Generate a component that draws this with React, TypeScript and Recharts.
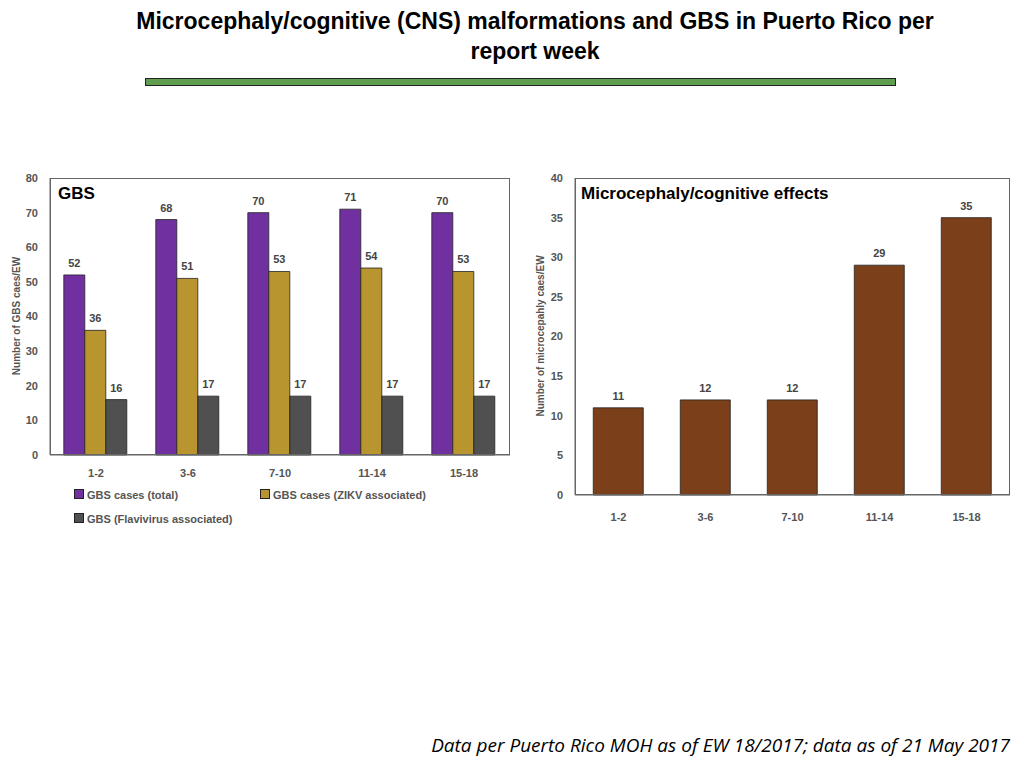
import React from "react";
import { BarChart, Bar, XAxis, YAxis, LabelList } from "recharts";

const weeks = ["1-2", "3-6", "7-10", "11-14", "15-18"];
const gbsTotal = [52, 68, 70, 71, 70];
const gbsZikv = [36, 51, 53, 54, 53];
const gbsFlavi = [16, 17, 17, 17, 17];
const microcephaly = [11, 12, 12, 29, 35];

const gbsData = weeks.map((w, i) => ({ week: w, total: gbsTotal[i], zikv: gbsZikv[i], flavi: gbsFlavi[i] }));
const microData = weeks.map((w, i) => ({ week: w, cases: microcephaly[i] }));

const font = "Liberation Sans, Arial, sans-serif";
const tick = { fontSize: 11, fontWeight: 700, fill: "#555", fontFamily: font };
const lbl = { fontSize: 11, fontWeight: 700, fill: "#444", fontFamily: font };

function Swatch({ color }: { color: string }) {
  return <span style={{ display: "inline-block", width: 8, height: 8, background: color, border: "1px solid #222", marginRight: 3 }} />;
}

function AxisTitle({ text, cx, cy }: { text: string; cx: number; cy: number }) {
  return (
    <div style={{ position: "absolute", left: cx - 150, top: cy - 7, width: 300, textAlign: "center", fontSize: 10, fontWeight: 700, color: "#555", transform: "rotate(-90deg)", lineHeight: "14px" }}>
      {text}
    </div>
  );
}

export default function App() {
  return (
    <div style={{ position: "absolute", left: 0, top: 0, width: 1024, height: 768, background: "#fff", fontFamily: font }}>
      <div style={{ position: "absolute", top: 6, left: 0, width: 1070, textAlign: "center", fontSize: 23, fontWeight: 700, lineHeight: "30px" }}>
        Microcephaly/cognitive (CNS) malformations and GBS in Puerto Rico per<br />report week
      </div>
      <div style={{ position: "absolute", left: 145, top: 78, width: 749, height: 6, background: "#5e9e4e", border: "1px solid #222" }} />

      {/* GBS chart */}
      <div style={{ position: "absolute", left: 0, top: 160 }}>
        <BarChart width={520} height={330} data={gbsData} margin={{ top: 18, right: 10, bottom: 5, left: 0 }} barCategoryGap="15%" barGap={0}>
          <XAxis dataKey="week" height={30} tick={tick} tickLine={false} axisLine={{ stroke: "#666" }} tickMargin={8} />
          <YAxis width={50} domain={[0, 80]} ticks={[0, 10, 20, 30, 40, 50, 60, 70, 80]} tick={tick} tickLine={false} axisLine={{ stroke: "#666" }} tickMargin={6} />
          <Bar dataKey="total" fill="#7030A0" stroke="#222" strokeWidth={0.8} isAnimationActive={false}>
            <LabelList dataKey="total" position="top" offset={8} style={lbl} />
          </Bar>
          <Bar dataKey="zikv" fill="#B8952F" stroke="#222" strokeWidth={0.8} isAnimationActive={false}>
            <LabelList dataKey="zikv" position="top" offset={8} style={lbl} />
          </Bar>
          <Bar dataKey="flavi" fill="#505050" stroke="#222" strokeWidth={0.8} isAnimationActive={false}>
            <LabelList dataKey="flavi" position="top" offset={8} style={lbl} />
          </Bar>
        </BarChart>
      </div>
      <AxisTitle text="Number of GBS caes/EW" cx={17} cy={316} />
      <div style={{ position: "absolute", left: 50, top: 178, width: 460, height: 277, border: "1px solid #666", boxSizing: "border-box", pointerEvents: "none" }} />
      <div style={{ position: "absolute", left: 58, top: 184, fontSize: 17, fontWeight: 700 }}>GBS</div>
      <div style={{ position: "absolute", left: 74, top: 489, fontSize: 11, fontWeight: 700, color: "#555" }}><Swatch color="#7030A0" />GBS cases (total)</div>
      <div style={{ position: "absolute", left: 260, top: 489, fontSize: 11, fontWeight: 700, color: "#555" }}><Swatch color="#B8952F" />GBS cases (ZIKV associated)</div>
      <div style={{ position: "absolute", left: 74, top: 513, fontSize: 11, fontWeight: 700, color: "#555" }}><Swatch color="#505050" />GBS (Flavivirus associated)</div>

      {/* Microcephaly chart */}
      <div style={{ position: "absolute", left: 530, top: 160 }}>
        <BarChart width={490} height={370} data={microData} margin={{ top: 18, right: 10, bottom: 5, left: 0 }} barCategoryGap="21%">
          <XAxis dataKey="week" height={30} tick={tick} tickLine={false} axisLine={{ stroke: "#666" }} tickMargin={12} />
          <YAxis width={45} domain={[0, 40]} ticks={[0, 5, 10, 15, 20, 25, 30, 35, 40]} tick={tick} tickLine={false} axisLine={{ stroke: "#666" }} tickMargin={6} />
          <Bar dataKey="cases" fill="#7B3F1A" stroke="#222" strokeWidth={0.8} isAnimationActive={false}>
            <LabelList dataKey="cases" position="top" offset={8} style={lbl} />
          </Bar>
        </BarChart>
      </div>
      <AxisTitle text="Number of microcepahly caes/EW" cx={541} cy={336} />
      <div style={{ position: "absolute", left: 575, top: 178, width: 435, height: 317, border: "1px solid #666", boxSizing: "border-box", pointerEvents: "none" }} />
      <div style={{ position: "absolute", left: 581, top: 184, fontSize: 17, fontWeight: 700 }}>Microcephaly/cognitive effects</div>

      <div style={{ position: "absolute", right: 14, top: 732, fontSize: 19, fontStyle: "italic", fontFamily: "Open Sans, sans-serif" }}>
        Data per Puerto Rico MOH as of EW 18/2017; data as of 21 May 2017
      </div>
    </div>
  );
}
